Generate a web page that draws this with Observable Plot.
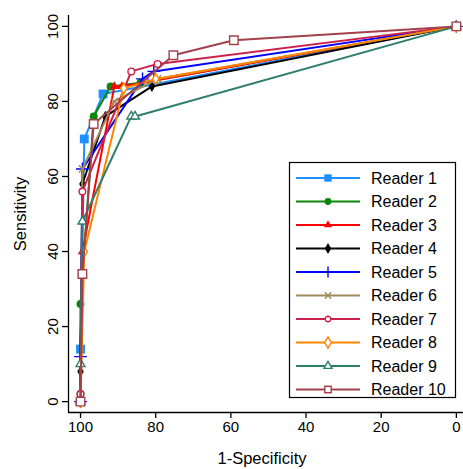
<!DOCTYPE html>
<html>
<head>
<meta charset="utf-8">
<script src="https://cdn.jsdelivr.net/npm/d3@7"></script>
<script src="https://cdn.jsdelivr.net/npm/@observablehq/plot@0.6"></script>
<style>
  html, body { margin: 0; padding: 0; background: #fff; }
  #chart svg { display: block; }
</style>
</head>
<body>
<div id="chart"></div>
<script>
// ---- data ----
const readers = ["Reader 1","Reader 2","Reader 3","Reader 4","Reader 5","Reader 6","Reader 7","Reader 8","Reader 9","Reader 10"];
const colors  = ["#1E8FFF","#0A870A","#FF0000","#000000","#0000FF","#A08A55","#CC1F4A","#FF8500","#2E7E6C","#A3414B"];
const symbols = ["square","circle","triangle","diamond","plus","times","circle","diamond","triangle","square"];
const filled  = [true,true,true,true,false,false,false,false,false,false];

const r1x = [100, 100, 99, 94, 0],                 r1y = [0, 14, 70, 82, 100];
const r2x = [100, 100, 96.5, 92, 84, 0],           r2y = [2, 26, 76, 84, 85, 100];
const r3x = [100, 100, 99.5, 91, 89, 0],           r3y = [0, 10, 40, 84, 84, 100];
const r4x = [100, 100, 99.5, 93.4, 81, 0],         r4y = [0, 8, 58, 76, 84, 100];
const r5x = [100, 100, 99.5, 83.5, 80.5, 0],       r5y = [0, 12, 62, 86, 88, 100];
const r6x = [100, 99.5, 91, 79.5, 0],              r6y = [0, 62, 80, 86, 100];
const r7x = [100, 100, 99.5, 86.5, 79.5, 0],       r7y = [0, 2, 56, 88, 90, 100];
const r8x = [100, 99, 88.5, 80, 0],                r8y = [0, 40, 83.5, 86, 100];
const r9x = [100, 100, 99.5, 86.5, 85.5, 0],       r9y = [0, 10, 48, 76, 76, 100];
const r10x = [100, 99.5, 96.5, 75.3, 59.2, 0],     r10y = [0, 34, 74, 92.3, 96.3, 100];

const xs = [r1x,r2x,r3x,r4x,r5x,r6x,r7x,r8x,r9x,r10x];
const ys = [r1y,r2y,r3y,r4y,r5y,r6y,r7y,r8y,r9y,r10y];

const xTicks = [100, 80, 60, 40, 20, 0];
const yTicks = [0, 20, 40, 60, 80, 100];

// ---- chart ----
const W = 463, H = 469;
const mL = 68, mR = 0, mT = 15, mB = 57;
const xDomain = [103.2, -1.9];
const yDomain = [-2.9, 102.9];
const FONT = "'Liberation Sans', Arial, sans-serif";

// marker radius per reader (symbol area = PI r^2)
const markR = [5.0, 4.0, 3.4, 3.4, 4.2, 3.4, 3.3, 3.3, 3.3, 4.8];

const marks = [];
readers.forEach((name, i) => {
  const data = xs[i].map((x, k) => ({reader: name, fpr: x, sens: ys[i][k]}));
  marks.push(Plot.line(data, {x: "fpr", y: "sens", stroke: colors[i], strokeWidth: 2}));
  const stroke_only = symbols[i] === "plus" || symbols[i] === "times";
  marks.push(Plot.dot(data, {
    x: "fpr", y: "sens", symbol: symbols[i], r: markR[i],
    fill: filled[i] ? colors[i] : (stroke_only ? "none" : "white"),
    stroke: colors[i],
    strokeWidth: filled[i] ? 0 : 1.4
  }));
});

const chart = Plot.plot({
  width: W, height: H,
  marginLeft: mL, marginRight: mR, marginTop: mT, marginBottom: mB,
  style: {fontFamily: FONT, fontSize: "15px", color: "#000", background: "#fff"},
  x: {domain: xDomain},
  y: {domain: yDomain},
  marks: [
    Plot.ruleX([xDomain[0]], {stroke: "#000", strokeWidth: 1.3}),
    Plot.ruleY([yDomain[0]], {stroke: "#000", strokeWidth: 1.3}),
    Plot.axisX({ticks: xTicks, tickSize: 6, tickPadding: 3, fontSize: 15, label: null, stroke: "#000", strokeWidth: 1.3}),
    Plot.axisY({ticks: yTicks, tickSize: 6, tickPadding: 5, tickRotate: -90, fontSize: 15, label: null, stroke: "#000", strokeWidth: 1.3}),
    ...marks
  ]
});
document.getElementById("chart").appendChild(chart);

// ---- axis titles and legend ----
const svg = d3.select(chart);
svg.append("text")
  .attr("x", (mL + 456) / 2).attr("y", 464)
  .attr("text-anchor", "middle")
  .style("font-family", FONT).style("font-size", "16.5px").attr("fill", "#000")
  .text("1-Specificity");
svg.append("text")
  .attr("transform", `translate(26,214) rotate(-90)`)
  .attr("text-anchor", "middle")
  .style("font-family", FONT).style("font-size", "16.5px").attr("fill", "#000")
  .text("Sensitivity");

const lg = svg.append("g");
lg.append("rect").attr("x", 289.5).attr("y", 162.5).attr("width", 166).attr("height", 235)
  .attr("fill", "white").attr("stroke", "#000").attr("stroke-width", 1.2);
const symMap = {square: d3.symbolSquare, circle: d3.symbolCircle, triangle: d3.symbolTriangle,
                diamond: d3.symbolDiamond, plus: d3.symbolPlus, times: d3.symbolTimes};
const legR = [4.2, 3.4, 3.0, 3.4, 3.6, 3.0, 2.8, 3.4, 3.0, 3.6];
readers.forEach((name, i) => {
  const cy = 178 + i * 23.5;
  lg.append("line").attr("x1", 296).attr("x2", 360).attr("y1", cy).attr("y2", cy)
    .attr("stroke", colors[i]).attr("stroke-width", 2);
  const s = symbols[i], r = legR[i];
  const stroke_only = s === "plus" || s === "times";
  lg.append("path")
    .attr("d", d3.symbol(symMap[s], Math.PI * r * r)())
    .attr("transform", `translate(328,${cy})`)
    .attr("fill", filled[i] ? colors[i] : (stroke_only ? "none" : "white"))
    .attr("stroke", colors[i]).attr("stroke-width", filled[i] ? 0 : 1.4);
  lg.append("text").attr("x", 371).attr("y", cy).attr("dy", "0.36em")
    .attr("text-anchor", "start")
    .style("font-family", FONT).style("font-size", "16px").attr("fill", "#000")
    .text(name);
});
</script>
</body>
</html>
